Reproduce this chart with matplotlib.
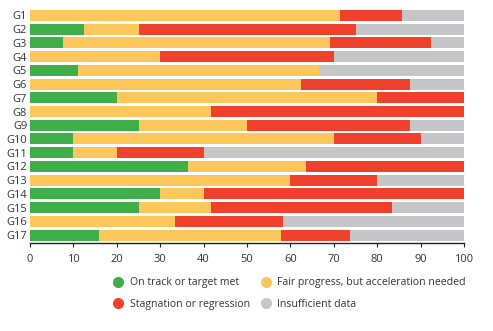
import matplotlib
matplotlib.use("Agg")
import matplotlib.pyplot as plt
from matplotlib.lines import Line2D
import numpy as np

plt.rcParams['font.family'] = ['Open Sans', 'DejaVu Sans']

goals = [f"G{i}" for i in range(1, 18)]
on_track = [0, 12.5, 7.7, 0, 11.1, 0, 20, 0, 25, 10, 10, 36.4, 0, 30, 25, 0, 15.8]
fair = [71.4, 12.5, 61.5, 30, 55.6, 62.5, 60, 41.7, 25, 60, 10, 27.3, 60, 10, 16.7, 33.3, 42.1]
stagnation = [14.3, 50, 23.1, 40, 0, 25, 20, 58.3, 37.5, 20, 20, 36.3, 20, 60, 41.7, 25, 15.8]
insufficient = [14.3, 25, 7.7, 30, 33.3, 12.5, 0, 0, 12.5, 10, 60, 0, 20, 0, 16.6, 41.7, 26.3]

labels = ["On track or target met", "Fair progress, but acceleration needed",
          "Stagnation or regression", "Insufficient data"]
colors = ["#3FAE49", "#FDC75B", "#EF412B", "#C6C6C8"]
text_col = "#333333"

fig = plt.figure(figsize=(4.93, 3.31), dpi=100)
ax = fig.add_axes([30 / 493, 1 - 243 / 331, 434 / 493, 233 / 331])

y = np.arange(len(goals))
left = np.zeros(len(goals))
for vals, col in zip([on_track, fair, stagnation, insufficient], colors):
    ax.barh(y, vals, left=left, height=0.8, color=col, linewidth=0)
    left += np.array(vals)

ax.set_xlim(0, 100)
ax.set_ylim(16.58, -0.4)
ax.set_yticks(y)
ax.set_yticklabels(goals)
ax.set_xticks(range(0, 101, 10))
for s in ["top", "right", "left"]:
    ax.spines[s].set_visible(False)
ax.spines["bottom"].set_color("#222222")
ax.spines["bottom"].set_linewidth(1.0)
ax.tick_params(axis="y", length=0, pad=2, labelsize=8, labelcolor=text_col)
ax.tick_params(axis="x", length=3, width=0.8, color="#222222", pad=5,
               labelsize=8, labelcolor=text_col)

handles = [Line2D([], [], marker="o", linestyle="", markersize=7,
                  markerfacecolor=c, markeredgecolor=c) for c in colors]
# column-wise fill: green, red | yellow, gray
order = [0, 2, 1, 3]
fig.legend([handles[i] for i in order], [labels[i] for i in order],
           ncol=2, loc="upper left", bbox_to_anchor=(98 / 493, 1 - 268 / 331),
           frameon=False, fontsize=7.6, handletextpad=0.1, columnspacing=0.5,
           labelspacing=0.95, labelcolor=text_col)

fig.savefig("out.png", dpi=100)
